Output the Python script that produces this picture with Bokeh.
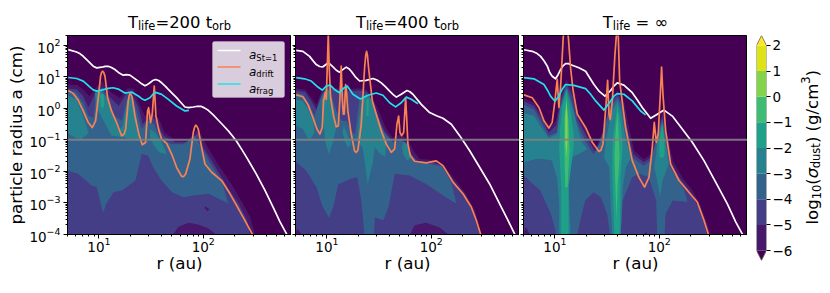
from math import pi
from bokeh.plotting import figure
from bokeh.layouts import row, column
from bokeh.models import (Range1d, FixedTicker, LogTickFormatter, Span, Label, BoxAnnotation,
                          LinearAxis, CustomJSTickFormatter)
from bokeh.embed import file_html
from bokeh.resources import INLINE

# ---------- values: (log10 r [au], log10 a [cm]) ----------
p1_white = [(.706,1.853),(.786,1.78),(.82,1.72),(.85,1.643),(.885,1.53),(.914,1.433),(.945,1.33),(.978,1.276),(1.026,1.297),(1.06,1.325),(1.089,1.328),(1.12,1.29),(1.153,1.224),(1.195,1.11),(1.233,1.045),(1.265,1.06),(1.297,1.045),(1.337,.95),(1.377,.856),(1.41,.77),(1.441,.709),(1.465,.75),(1.489,.804),(1.515,.875),(1.543,.909),(1.572,.875),(1.601,.804),(1.635,.7),(1.665,.594),(1.705,.46),(1.744,.332),(1.785,.18),(1.824,.038),(1.86,.02),(1.904,.038),(1.945,.06),(1.977,.059),(2.01,.01),(2.048,-.067),(2.095,-.21),(2.144,-.382),(2.19,-.54),(2.24,-.718),(2.28,-.88),(2.32,-1.053),(2.365,-1.29),(2.415,-1.557),(2.511,-2.103),(2.591,-2.606),(2.671,-3.152),(2.735,-3.603),(2.799,-3.99),(2.82,-4.2)]
p1_cyan = [(.706,.972),(.786,.94),(.85,.856),(.88,.77),(.914,.667),(.945,.58),(.978,.541),(1.026,.573),(1.089,.625),(1.137,.646),(1.185,.604),(1.249,.479),(1.28,.49),(1.313,.51),(1.377,.384),(1.41,.3),(1.441,.248),(1.489,.332),(1.52,.45),(1.543,.5),(1.601,.437),(1.665,.279),(1.744,.069),(1.824,-.088),(1.862,-.067)]
p1_orange = [(.706,.562),(.754,.468),(.802,.248),(.85,-.088),(.898,-.455),(.936,-.613),(.968,-.403),(.994,.332),(1.016,1.014),(1.025,1.13),(1.035,1.171),(1.046,1.13),(1.058,1.014),(1.083,.332),(1.121,-.088),(1.169,-.455),(1.217,-.875),(1.24,-.83),(1.256,-.665),(1.281,.227),(1.29,.40),(1.3,.468),(1.31,.42),(1.319,.332),(1.345,-.245),(1.383,-.823),(1.415,-1.158),(1.447,-1.085),(1.466,-.088),(1.476,.017),(1.486,-.245),(1.495,-.455),(1.511,-.193),(1.53,.699),(1.537,.332),(1.546,-.245),(1.575,-.718),(1.601,-.98),(1.649,-1.116),(1.697,-1.452),(1.744,-1.872),(1.792,-2.155),(1.81,-2.17),(1.831,-2.082),(1.872,-1.61),(1.904,-.77),(1.915,-.62),(1.927,-.539),(1.94,-.58),(1.952,-.665),(1.984,-1.242),(2.016,-1.767),(2.08,-2.029),(2.176,-2.292),(2.256,-2.711),(2.336,-3.183),(2.415,-3.655),(2.47,-3.99),(2.49,-4.2)]

p2_white = [(.706,1.83),(.77,1.80),(.834,1.64),(.87,1.49),(.898,1.38),(.93,1.32),(.962,1.31),(1.01,1.43),(1.035,1.38),(1.058,1.31),(1.09,1.2),(1.121,1.14),(1.155,1.23),(1.185,1.30),(1.21,1.25),(1.233,1.17),(1.27,1.0),(1.313,.86),(1.377,.88),(1.441,.94),(1.48,.89),(1.521,.80),(1.56,.68),(1.601,.54),(1.635,.43),(1.665,.35),(1.712,.44),(1.767,.56),(1.795,.52),(1.824,.44),(1.904,.12),(1.984,-.14),(2.05,-.24),(2.112,-.32),(2.192,-.51),(2.272,-.87),(2.368,-1.35),(2.463,-1.87),(2.559,-2.40),(2.655,-3.03),(2.735,-3.55),(2.799,-3.99),(2.82,-4.2)]
p2_cyan = [(.706,.97),(.786,.93),(.85,.86),(.914,.67),(.955,.57),(.994,.70),(1.032,.73),(1.073,.59),(1.121,.49),(1.16,.63),(1.195,.70),(1.22,.58),(1.249,.44),(1.32,.29),(1.393,.41),(1.473,.48),(1.537,.41),(1.601,.17),(1.658,.04),(1.712,.17),(1.76,.35),(1.808,.28),(1.872,.14)]
p2_orange = [(.706,.42),(.77,.36),(.818,.12),(.866,-.30),(.904,-.66),(.933,-.82),(.955,-.61),(.968,.23),(.984,.49),(.994,.28),(1.003,1.28),(1.013,2.35),(1.022,1.28),(1.035,.33),(1.064,-.25),(1.089,-.59),(1.109,-.56),(1.125,.33),(1.137,1.33),(1.147,.33),(1.157,-.19),(1.166,-.19),(1.179,.75),(1.185,.65),(1.201,-.09),(1.233,-.82),(1.265,-1.35),(1.28,-1.40),(1.297,-1.33),(1.329,-.51),(1.361,1.28),(1.372,1.68),(1.38,1.80),(1.388,1.68),(1.399,1.28),(1.435,.23),(1.473,-.19),(1.521,-.72),(1.569,-1.14),(1.617,-1.40),(1.649,-1.29),(1.671,-.51),(1.687,-.25),(1.70,-.77),(1.716,-.87),(1.735,-.77),(1.754,.33),(1.764,-.30),(1.776,-1.14),(1.799,-1.50),(1.84,-1.68),(1.952,-1.73),(2.048,-1.67),(2.112,-1.82),(2.208,-2.34),(2.304,-2.71),(2.383,-3.13),(2.431,-3.55),(2.473,-3.99),(2.49,-4.2)]

p3_white = [(.703,1.85),(.783,1.80),(.83,1.73),(.863,1.64),(.895,1.5),(.927,1.33),(.95,1.13),(.974,1.01),(1.006,.93),(1.03,1.06),(1.054,1.22),(1.08,1.35),(1.102,1.41),(1.13,1.41),(1.166,1.36),(1.23,1.28),(1.294,1.17),(1.33,.98),(1.374,.75),(1.425,.53),(1.479,.38),(1.534,.56),(1.565,.7),(1.597,.80),(1.661,.73),(1.741,.49),(1.79,.26),(1.837,.02),(1.917,-.32),(1.981,-.19),(2.045,-.06),(2.125,-.25),(2.22,-.66),(2.316,-1.08),(2.428,-1.66),(2.54,-2.34),(2.652,-3.03),(2.732,-3.6),(2.796,-3.99),(2.82,-4.2)]
p3_cyan = [(.703,.97),(.799,.93),(.895,.75),(.93,.56),(.958,.38),(1.0,.22),(1.038,.38),(1.07,.6),(1.102,.75),(1.182,.72),(1.294,.62),(1.34,.45),(1.39,.23),(1.47,-.06),(1.534,.23),(1.565,.38),(1.597,.46),(1.661,.44),(1.741,.23),(1.821,-.09),(1.869,-.21)]
p3_orange = [(.703,.42),(.783,.33),(.847,.02),(.895,-.40),(.942,-.63),(.974,-.45),(1.0,.23),(1.022,.91),(1.038,.02),(1.054,.65),(1.08,2.27),(1.102,2.6),(1.128,2.27),(1.15,1.28),(1.173,.59),(1.214,-.19),(1.294,-.61),(1.358,-1.08),(1.422,-1.37),(1.44,-1.33),(1.46,-1.14),(1.492,.23),(1.505,.88),(1.518,-.19),(1.53,-.36),(1.55,.23),(1.575,1.7),(1.588,2.27),(1.597,2.6),(1.607,2.27),(1.62,.86),(1.677,-.61),(1.741,-1.66),(1.805,-2.19),(1.859,-2.5),(1.901,-2.19),(1.933,-1.24),(1.952,-.45),(1.971,-1.08),(1.99,-.82),(2.013,.65),(2.022,1.30),(2.035,.44),(2.061,-.72),(2.109,-1.77),(2.189,-2.29),(2.284,-2.66),(2.364,-2.97),(2.428,-3.55),(2.47,-3.99),(2.49,-4.2)]

# filled dust-density regions, one list per contour band
p1_m6 = [(.69,.75),(.79,.73),(.85,.59),(.91,.38),(.96,.59),(1.03,.86),(1.12,.49),(1.20,.33),(1.27,.62),(1.33,.62),(1.39,.12),(1.44,-.25),(1.50,-.14),(1.57,-.30),(1.63,-.77),(1.73,-1.01),(1.86,-.98),(1.95,-.66),(2.02,-1.11),(2.14,-1.77),(2.27,-2.40),(2.38,-3.03),(2.45,-3.45),(2.50,-4.05),(.69,-4.05)]
p1_m5 = [(.69,.63),(.79,.59),(.85,.38),(.90,.02),(.96,.44),(1.03,.67),(1.11,.33),(1.19,.07),(1.26,.44),(1.31,.49),(1.38,.02),(1.42,-.51),(1.49,-.25),(1.55,-.40),(1.62,-.87),(1.73,-1.08),(1.86,-1.08),(1.95,-.77),(2.0,-1.24),(2.11,-1.82),(2.24,-2.55),(2.34,-3.03),(2.42,-3.55),(2.45,-4.05),(.69,-4.05)]
p1_holes = [[(1.70,-4.05),(1.76,-3.76),(1.86,-3.63),(1.95,-3.68),(2.05,-3.81),(2.14,-4.05)],
            [(2.02,-3.11),(2.06,-3.21),(2.04,-3.26),(2.01,-3.15)]]
p1_m4 = [(.69,.56),(.78,.49),(.85,.17),(.90,-.25),(.95,-.30),(.97,.44),(1.03,.59),(1.08,.33),(1.15,-.25),(1.22,-.40),(1.27,.28),(1.31,.44),(1.36,-.09),(1.41,-.66),(1.47,-.40),(1.53,-.51),(1.59,-.98),(1.70,-1.14),(1.81,-1.14),(1.92,-.87),(1.98,-1.24),(2.08,-1.82),(2.18,-2.34),(2.24,-3.03),(2.21,-2.97),(2.05,-2.71),(1.92,-2.76),(1.81,-2.82),(1.70,-2.66),(1.60,-2.29),(1.52,-1.87),(1.47,-1.50),(1.41,-1.45),(1.35,-2.29),(1.22,-2.61),(1.14,-2.66),(1.07,-3.03),(1.04,-3.32),(1.01,-2.92),(.98,-2.50),(.93,-2.45),(.80,-2.08),(.69,-1.97)]
p1_m3 = [[(.69,.42),(.78,.28),(.83,-.09),(.87,-.45),(.90,-.80),(.83,-.98),(.78,-.95),(.69,-.77)],
         [(.96,.49),(1.02,.54),(1.07,.33),(1.14,-.30),(1.19,-.72),(1.23,-.56),(1.27,.23),(1.31,.38),(1.35,-.14),(1.38,-.77),(1.41,-1.03),(1.33,-1.01),(1.22,-.91),(1.12,-.87),(1.03,-.30),(.98,.02)],
         [(1.49,-.66),(1.54,-.77),(1.60,-1.08),(1.65,-1.45),(1.58,-1.40),(1.52,-1.14),(1.49,-.93)]]
p1_m2 = [[(1.01,.44),(1.05,.44),(1.05,.02),(1.02,.02)]]

p2_m6 = [(.69,.63),(.79,.59),(.85,.33),(.90,.12),(.95,.54),(1.01,.75),(1.09,.63),(1.19,.59),(1.30,.63),(1.38,.59),(1.44,.33),(1.51,-.19),(1.57,-.66),(1.63,-.93),(1.71,-.82),(1.78,-1.03),(1.83,-1.35),(1.89,-1.61),(2.02,-1.64),(2.11,-1.77),(2.21,-2.19),(2.32,-2.66),(2.42,-3.24),(2.48,-4.05),(.69,-4.05)]
p2_m5 = [(.69,.56),(.79,.52),(.85,.23),(.90,-.04),(.95,.44),(1.01,.67),(1.09,.54),(1.19,.52),(1.30,.56),(1.38,.52),(1.44,.23),(1.49,-.25),(1.55,-.72),(1.63,-1.03),(1.71,-.98),(1.77,-1.14),(1.81,-1.45),(1.87,-1.68),(2.02,-1.73),(2.11,-1.82),(2.21,-2.29),(2.31,-2.76),(2.39,-3.24),(2.43,-3.66),(2.47,-4.05),(.69,-4.05)]
p2_holes = [[(.69,-4.05),(.715,-3.81),(.77,-4.05)],
            [(1.79,-4.05),(1.84,-3.71),(1.95,-3.63),(2.08,-3.78),(2.18,-4.05)]]
p2_m4 = [(.69,.49),(.77,.44),(.83,.12),(.88,-.25),(.93,.23),(.98,.59),(1.03,.54),(1.09,-.09),(1.14,-.40),(1.19,-.40),(1.23,-.72),(1.27,-.82),(1.31,.23),(1.38,.46),(1.44,.17),(1.49,-.30),(1.55,-.77),(1.63,-1.08),(1.71,-1.03),(1.76,-1.08),(1.80,-1.50),(1.86,-1.71),(1.99,-1.77),(2.10,-1.84),(2.19,-2.34),(2.24,-3.03),(2.11,-2.76),(1.95,-2.40),(1.79,-2.13),(1.65,-2.08),(1.62,-2.61),(1.59,-3.13),(1.54,-3.55),(1.46,-3.45),(1.45,-4.05),(1.36,-4.05),(1.33,-2.92),(1.29,-2.19),(1.22,-2.24),(1.15,-2.35),(1.11,-2.40),(1.06,-3.13),(1.02,-3.47),(.96,-3.13),(.90,-2.50),(.80,-1.97),(.69,-1.66)]
p2_m3 = [[(.69,.28),(.77,.23),(.82,-.04),(.87,-.45),(.88,-.77),(.83,-1.03),(.77,-.66),(.69,-.53)],
         [(.95,.23),(.99,.63),(1.03,.54),(1.07,-.09),(1.09,-.61),(1.06,-1.03),(1.04,-1.24),(1.02,-1.45),(.99,-1.14),(.97,-.61),(.95,-.19)],
         [(1.16,-.56),(1.19,-.77),(1.23,-1.14),(1.20,-1.26),(1.17,-1.03),(1.15,-.77)],
         [(1.35,.38),(1.41,.38),(1.45,.02),(1.51,-.51),(1.57,-1.03),(1.56,-1.54),(1.51,-1.45),(1.46,-1.24),(1.44,-1.71),(1.39,-2.40),(1.36,-1.66),(1.34,-1.24),(1.29,-1.03),(1.31,-.30)],
         [(1.73,-1.08),(1.77,-1.14),(1.81,-1.56),(1.77,-1.66),(1.73,-1.45),(1.72,-1.24)]]
p2_m2 = [[(1.38,.28),(1.40,.28),(1.40,-.25),(1.38,-.25)]]

p3_m6 = [(.69,.33),(.80,.17),(.88,-.25),(.94,-.66),(1.01,-.40),(1.06,.44),(1.11,.91),(1.17,.54),(1.23,-.19),(1.31,-.72),(1.39,-1.30),(1.47,-.61),(1.53,.28),(1.60,.54),(1.66,.23),(1.71,-.61),(1.76,-1.35),(1.85,-1.61),(1.93,-1.45),(1.98,-.72),(2.03,-.14),(2.07,-.72),(2.13,-1.66),(2.22,-2.19),(2.32,-2.61),(2.40,-3.13),(2.46,-3.66),(2.49,-4.05),(.69,-4.05)]
p3_m5 = [(.69,.23),(.80,.07),(.88,-.35),(.94,-.77),(1.01,-.56),(1.06,.33),(1.11,.80),(1.17,.38),(1.22,-.35),(1.30,-.87),(1.39,-1.40),(1.46,-.77),(1.53,.17),(1.60,.44),(1.65,.12),(1.70,-.77),(1.75,-1.45),(1.85,-1.71),(1.92,-1.56),(1.98,-.82),(2.03,-.25),(2.06,-.82),(2.11,-1.77),(2.19,-2.19),(2.30,-2.66),(2.38,-3.18),(2.43,-3.66),(2.46,-4.05),(.69,-4.05)]
p3_holes = [[(.69,-4.05),(.72,-3.76),(.77,-4.05)],
            [(1.85,-4.05),(1.87,-3.89),(1.89,-4.05)]]
p3_m4 = [(.69,.12),(.80,-.04),(.86,-.40),(.94,-.87),(1.02,-.77),(1.07,.23),(1.11,.70),(1.16,.23),(1.21,-.45),(1.29,-1.03),(1.37,-1.47),(1.44,-1.03),(1.53,.02),(1.60,.33),(1.65,-.04),(1.69,-.93),(1.74,-1.56),(1.85,-1.82),(1.92,-1.66),(1.98,-.93),(2.03,-.35),(2.06,-.93),(2.10,-1.82),(2.16,-2.19),(2.24,-2.61),(2.27,-2.97),(2.13,-2.92),(2.06,-3.34),(2.05,-4.05),(1.98,-4.05),(1.97,-2.92),(1.90,-2.19),(1.81,-2.08),(1.74,-2.19),(1.65,-2.92),(1.63,-4.05),(1.53,-4.05),(1.50,-3.34),(1.44,-2.82),(1.37,-2.66),(1.29,-2.92),(1.25,-3.45),(1.21,-4.05),(1.02,-4.05),(.96,-3.34),(.86,-2.61),(.72,-2.19),(.69,-2.13)]
p3_m3 = [[(.69,-.14),(.80,-.25),(.86,-.56),(.94,-.95),(1.02,-.82),(1.05,.02),(1.11,.63),(1.16,.12),(1.21,-.51),(1.25,-1.03),(1.31,-1.30),(1.20,-1.50),(1.15,-1.56),(1.13,-2.40),(1.15,-4.05),(1.04,-4.05),(1.04,-3.03),(1.02,-2.19),(.97,-1.66),(.89,-1.61),(.81,-1.61),(.69,-1.74)],
         [(1.52,-.51),(1.53,-.19),(1.60,.23),(1.64,-.19),(1.68,-1.03),(1.73,-1.56),(1.68,-1.87),(1.65,-2.50),(1.63,-4.05),(1.55,-4.05),(1.53,-2.71),(1.52,-1.87),(1.47,-1.56),(1.49,-1.03)],
         [(1.98,-1.03),(2.03,-.45),(2.05,-.93),(2.09,-1.77),(2.03,-2.29),(2.01,-2.82),(1.98,-2.29),(1.95,-1.87),(1.97,-1.45)]]
p3_m2 = [[(1.07,.02),(1.11,.59),(1.15,-.09),(1.18,-.82),(1.18,-1.24),(1.13,-2.50),(1.13,-4.05),(1.06,-4.05),(1.06,-2.50),(1.04,-1.24),(1.05,-.61)],
         [(1.56,-.82),(1.60,.12),(1.63,-.51),(1.65,-1.24),(1.63,-2.08),(1.62,-4.05),(1.57,-4.05),(1.55,-2.08),(1.55,-1.24)],
         [(2.0,-1.03),(2.03,-.51),(2.05,-1.03),(2.05,-1.45),(2.04,-1.56),(2.0,-1.56)]]
p3_m1 = [[(1.09,-.40),(1.11,.33),(1.13,-.40),(1.14,-1.35),(1.12,-2.50),(1.10,-2.50),(1.09,-1.35)],
         [(1.58,-.82),(1.60,-.09),(1.61,-.82),(1.62,-1.56),(1.60,-2.50),(1.59,-3.55),(1.58,-2.50),(1.57,-1.56)]]
p3_0 = [[(1.10,-.30),(1.11,.23),(1.12,-.30),(1.12,-1.03),(1.11,-1.56),(1.10,-1.03)]]

levels = [-6, -5, -4, -3, -2, -1, 0, 1, 2]
level_colors = ["#48186a", "#433e85", "#33638d", "#26828e", "#1fa088", "#3fbc73", "#84d44b", "#dde318"]
under_color = "#440154"
over_color = "#fde725"
x_major = [10, 100]
x_minor = [5, 6, 7, 8, 9, 20, 30, 40, 50, 60, 70, 80, 90, 200, 300, 400, 500, 600, 700]
y_major = [1e-4, 1e-3, 1e-2, 1e-1, 1, 10, 100]
y_minor = [m * d for d in y_major for m in range(2, 10)]
reference_size = 0.1
titles = [[("T", 0), ("life", -1), ("=200 ", 0), ("t", 0), ("orb", -1)],
          [("T", 0), ("life", -1), ("=400 ", 0), ("t", 0), ("orb", -1)],
          [("T", 0), ("life", -1), (" = ∞", 0)]]
legend_names = [[("a", 0), ("St=1", -1)], [("a", 0), ("drift", -1)], [("a", 0), ("frag", -1)]]
cbar_label = [("log", 0), ("10", -1), ("(", 0), ("σ", 0), ("dust", -1), (") (g/cm", 0), ("3", 1), (")", 0)]

FONT = "DejaVu Sans"
WHITE, ORANGE, CYAN = "white", "#f98253", "#22e0e8"
EM = {"T": .611, "l": .278, "i": .278, "f": .352, "e": .615, "=": .838, "0": .636, "1": .636, "2": .636,
      "3": .636, "4": .636, " ": .318, "t": .392, "o": .612, "r": .411, "b": .635, "∞": .833, "a": .613,
      "S": .635, "d": .635, "u": .634, "s": .521, "g": .635, "c": .55, "m": .974, "/": .337, "(": .39,
      ")": .39, "σ": .603}


def rich(p, left, bottom, x, y, pieces, size, vertical=False):
    """Write text with sub/superscripts; x, y are page pixels (baseline start)."""
    pos = 0.0
    for text, kind in pieces:
        fs = size * 0.7 if kind else size
        shift = {0: 0, -1: -0.22 * size, 1: 0.42 * size}[kind]
        body = text.lstrip(" ")
        lead = (len(text) - len(body)) * EM[" "] * fs
        if vertical:
            px, py = x - shift, y - pos - lead
        else:
            px, py = x + pos + lead, y - shift
        p.add_layout(Label(x=px - left, y=bottom - py, x_units="screen", y_units="screen", text=body,
                           text_font=FONT, text_font_size=f"{fs:.1f}px", text_color="black",
                           text_font_style="italic" if body in ("a", "σ") else "normal",
                           angle=pi / 2 if vertical else 0, text_baseline="alphabetic", text_align="left"))
        pos += sum(EM[c] for c in text) * fs


def strip(width, height):
    s = figure(width=width, height=height, toolbar_location=None, output_backend="svg",
               x_range=Range1d(0, 1), y_range=Range1d(0, 1), x_axis_location=None, y_axis_location=None,
               min_border=0, outline_line_color=None, background_fill_color="white")
    s.grid.visible = False
    return s


def panel(width, border_left, white, cyan, orange, bands, show_labels):
    p = figure(width=width, height=250, x_axis_type="log", y_axis_type="log", toolbar_location=None,
               output_backend="svg", x_range=Range1d(5, 700), y_range=Range1d(1e-4, 200),
               min_border_left=border_left, min_border_right=0, min_border_top=0, min_border_bottom=51,
               background_fill_color=under_color, border_fill_color="white", outline_line_color="black")
    p.grid.visible = False
    for ax, major, minor in ((p.xaxis[0], x_major, x_minor), (p.yaxis[0], y_major, y_minor)):
        ax.ticker = FixedTicker(ticks=major, minor_ticks=minor)
        ax.formatter = LogTickFormatter()
        ax.major_tick_in = ax.minor_tick_in = 0
        ax.major_tick_out = 4
        ax.minor_tick_out = 2
        ax.axis_line_color = "black"
        ax.major_tick_line_color = "black"
        ax.minor_tick_line_color = "black"
        ax.major_label_text_color = "black"
        ax.axis_label_text_color = "black"
        ax.major_label_text_font = FONT
        ax.major_label_text_font_size = "13.5px"
        ax.axis_label_text_font = FONT
        ax.axis_label_text_font_style = "normal"
        ax.axis_label_text_font_size = "16.7px"
    p.xaxis.axis_label = "r (au)"
    p.xaxis.major_label_standoff = -2
    p.xaxis.axis_label_standoff = -2
    if show_labels:
        p.yaxis.axis_label = "particle radius a (cm)"
        p.yaxis.major_label_standoff = 3
        p.yaxis.axis_label_standoff = 0
    else:
        p.yaxis.formatter = CustomJSTickFormatter(code="return ''")
        p.yaxis.major_label_standoff = 0
        p.yaxis.major_tick_out = 3
    for pts_list, color in bands:
        for pts in pts_list:
            p.patch([10 ** a for a, _ in pts], [10 ** b for _, b in pts], fill_color=color, line_color=None)
    p.add_layout(Span(location=reference_size, dimension="width", line_color="#828282", line_width=1.8, line_alpha=.9))
    for pts, color in ((white, WHITE), (orange, ORANGE), (cyan, CYAN)):
        p.line([10 ** a for a, _ in pts], [10 ** b for _, b in pts], line_color=color, line_width=1.7, line_join="round")
    return p


c = level_colors
p1 = panel(291, 67, p1_white, p1_cyan, p1_orange,
           [([p1_m6], c[0]), ([p1_m5], c[1]), (p1_holes, c[0]), ([p1_m4], c[2]), (p1_m3, c[3]), (p1_m2, c[4])], True)
p2 = panel(228, 4, p2_white, p2_cyan, p2_orange,
           [([p2_m6], c[0]), ([p2_m5], c[1]), (p2_holes, c[0]), ([p2_m4], c[2]), (p2_m3, c[3]), (p2_m2, c[4])], False)
p3 = panel(228, 4, p3_white, p3_cyan, p3_orange,
           [([p3_m6], c[0]), ([p3_m5], c[1]), (p3_holes, c[0]), ([p3_m4], c[2]), (p3_m3, c[3]), (p3_m2, c[4]), (p3_m1, c[5]), (p3_0, c[6])], False)

# titles sit in a strip above the panels
top = strip(820, 35)
for title, centre in zip(titles, (179, 407, 635)):
    w = sum(EM[ch] * (.7 if k else 1) for t, k in title for ch in t) * 16.4
    rich(top, 0, 35, centre - w / 2, 21.5, title, 16.4)

# legend drawn in the first panel
L, B = 67, 234
p1.add_layout(BoxAnnotation(left=212 - L, right=284 - L, top=B - 41, bottom=B - 97,
                            left_units="screen", right_units="screen", top_units="screen", bottom_units="screen",
                            fill_color="white", fill_alpha=.8, line_color="#cccccc", line_width=1, border_radius=2))
for yy, col, name in ((50, WHITE, legend_names[0]), (66.5, ORANGE, legend_names[1]), (83.5, CYAN, legend_names[2])):
    p1.add_layout(BoxAnnotation(left=217 - L, right=240 - L, top=B - yy + .8, bottom=B - yy - .8,
                                left_units="screen", right_units="screen", top_units="screen", bottom_units="screen",
                                fill_color=col, fill_alpha=1, line_color=None))
    rich(p1, L, B, 248.5, yy + 4.5, name, 12)

# colour bar
cb = figure(width=48, height=250, toolbar_location=None, output_backend="svg", x_range=Range1d(0, 1),
            y_range=Range1d(-6.39, 2.39), min_border_left=9, min_border_right=27, min_border_top=0,
            min_border_bottom=25, x_axis_location=None, y_axis_location=None, outline_line_color=None,
            background_fill_color="white")
cb.grid.visible = False
cb.quad(left=0, right=1, bottom=levels[:-1], top=levels[1:], fill_color=level_colors, line_color=None)
cb.patch([0, 1, .5], [levels[-1], levels[-1], 2.39], fill_color=over_color, line_color=None)
cb.patch([0, 1, .5], [levels[0], levels[0], -6.39], fill_color=under_color, line_color=None)
cb.line([0, 0, .5, 1, 1, .5, 0], [levels[0], levels[-1], 2.39, levels[-1], levels[0], -6.39, levels[0]],
        line_color="#6a6a6a", line_width=.8)
cax = LinearAxis(ticker=FixedTicker(ticks=levels),
                 major_label_overrides={v: str(v).replace("-", "−") for v in levels},
                 major_tick_in=0, major_tick_out=4, minor_tick_out=0, minor_tick_in=0, axis_line_color=None,
                 major_tick_line_color="black", major_label_text_color="black",
                 major_label_text_font=FONT, major_label_text_font_size="13.5px", major_label_standoff=2)
cb.add_layout(cax, "right")

side = strip(33, 250)
rich(side, 795, 285, 812, 224, cbar_label, 16.5, vertical=True)

page = column(top, row(row(p1, p2, p3), row(cb), row(side)))
open("out.html", "w").write(file_html(page, INLINE))
